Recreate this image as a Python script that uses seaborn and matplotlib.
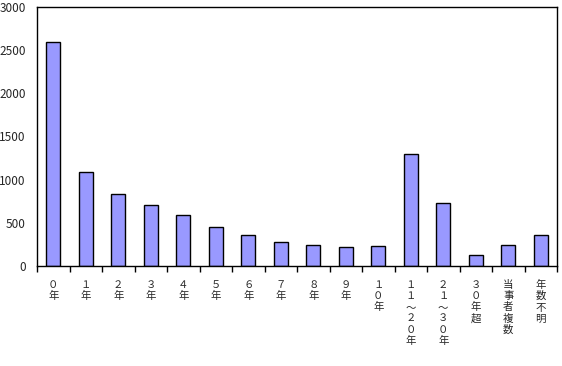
import matplotlib
matplotlib.use("Agg")
import matplotlib.pyplot as plt
import seaborn as sns
import pandas as pd
import numpy as np

# category labels (written vertically, one character per line)
categories = ["０年", "１年", "２年", "３年", "４年", "５年", "６年", "７年", "８年", "９年",
              "１０年", "１１～２０年", "２１～３０年", "３０年超", "当事者複数", "年数不明"]
counts = [2600, 1090, 830, 705, 590, 450, 357, 276, 242, 218, 228, 1293, 726, 124, 240, 355]
y_ticks = [0, 500, 1000, 1500, 2000, 2500, 3000]

sns.set_style("white")
plt.rcParams["font.family"] = ["Noto Sans CJK JP", "DejaVu Sans"]

df = pd.DataFrame({"cat": categories, "n": counts})

fig = plt.figure(figsize=(5.62, 3.66), dpi=100)
ax = fig.add_axes([37 / 562, 100 / 366, 520 / 562, 259 / 366])
sns.barplot(data=df, x="cat", y="n", color="#9999FF", saturation=1,
            edgecolor="black", linewidth=1, width=0.43, ax=ax)

ax.set_ylim(0, 3000)
ax.set_xlim(-0.5, len(categories) - 0.5)
ax.set_yticks(y_ticks)
ax.set_yticklabels([str(v) for v in y_ticks], fontsize=8.5)
ax.tick_params(axis="y", length=0, pad=8)

# vertical labels, ticks between the categories
ax.set_xticks(range(len(categories)))
ax.set_xticklabels(["\n".join(c) for c in categories], fontsize=7.5,
                   linespacing=1.15, va="top")
ax.tick_params(axis="x", which="major", length=0, pad=10)
ax.set_xticks(np.arange(-0.5, len(categories)), minor=True)
ax.tick_params(axis="x", which="minor", length=4, width=1, direction="out",
               color="black", bottom=True)

for s in ax.spines.values():
    s.set_color("black")
    s.set_linewidth(1)

ax.set_xlabel("")
ax.set_ylabel("")

fig.savefig("out.png", dpi=100)
